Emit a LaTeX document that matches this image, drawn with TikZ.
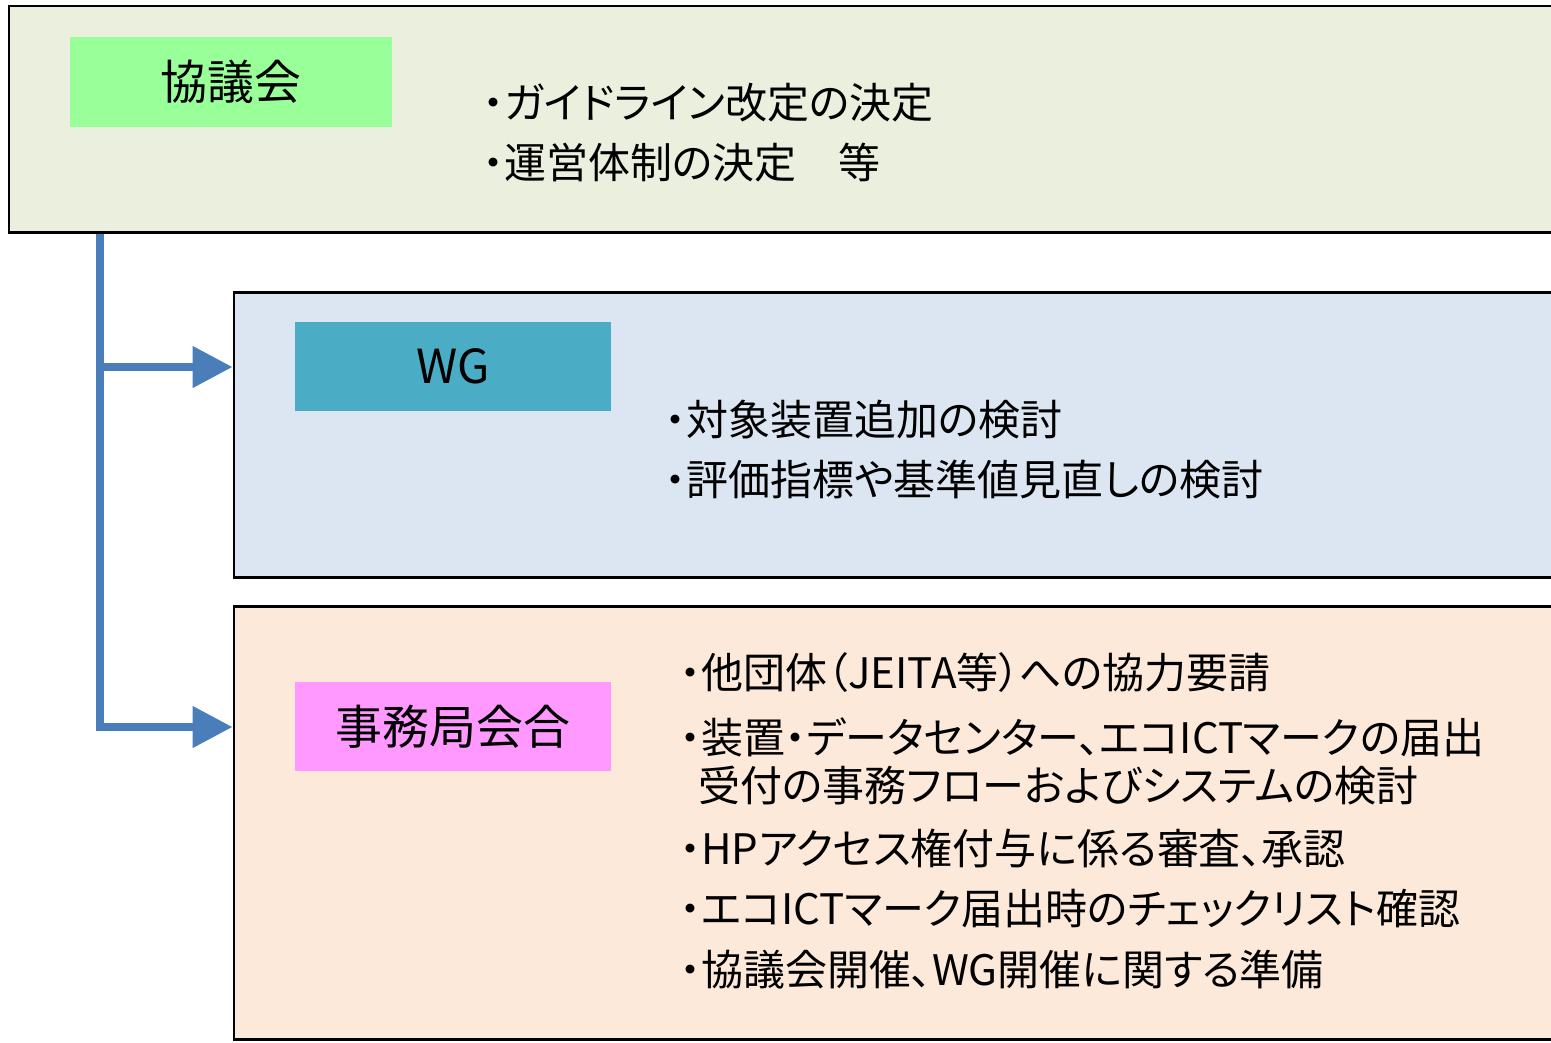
\documentclass[tikz,border=0pt]{standalone}
\usepackage{fontspec}
\newfontfamily\jp[RawFeature=+palt]{Noto Sans CJK JP}
\newfontfamily\jpfix{Noto Sans CJK JP}
\usetikzlibrary{arrows.meta,fit}
\definecolor{councilfill}{HTML}{EBF0DE}
\definecolor{councilgreen}{HTML}{99FF99}
\definecolor{wgfill}{HTML}{DCE6F2}
\definecolor{wgteal}{HTML}{4BACC6}
\definecolor{secfill}{HTML}{FDE9D9}
\definecolor{secpink}{HTML}{FF99FF}
\definecolor{linkblue}{HTML}{4A7EBB}
\tikzset{
  panel/.style={draw=black, line width=1.7pt, inner sep=0pt},
  tag/.style={inner sep=0pt},
  tagtext/.style={inner sep=0pt, font=\jpfix\fontsize{26.7}{32}\selectfont},
  item/.style={anchor=west, inner sep=0pt, font=\jp\fontsize{23.9}{28}\selectfont},
  link/.style={draw=linkblue, line width=4.5pt, -{Triangle[length=0.8cm,width=0.8cm]}}
}
\begin{document}
\begin{tikzpicture}[x=0.02cm,y=-0.02cm]
\useasboundingbox (0,0) rectangle (1551,1042);
\clip (0,0) rectangle (1551,1042);
% panels
\node[panel, fill=councilfill, fit={(9,6)(1600,232)}] (council) {};
\node[panel, fill=wgfill, fit={(234,292)(1600,577)}] (wgbox) {};
\node[panel, fill=secfill, fit={(234,606)(1600,1039)}] (secbox) {};
% labels
\node[tag, fill=councilgreen, fit={(70,37)(392,127)},
      label={[tagtext]center:協議会}] (councillabel) {};
\node[tag, fill=wgteal, fit={(295,322)(611,411)},
      label={[tagtext]center:WG}] (wglabel) {};
\node[tag, fill=secpink, fit={(295,682)(611,771)},
      label={[tagtext]center:事務局会合}] (seclabel) {};
% connectors
\coordinate (split) at (100,367);
\coordinate (corner) at (100,727);
\draw[link] (council.south -| corner) -- (corner) -- (secbox.west |- corner);
\draw[link] (split) -- (wgbox.west |- split);
% council items
\node[item] (c1) at (483,103) {・ガイドライン改定の決定};
\node[item] (c2) at (483,163) {・運営体制の決定　等};
% WG items
\node[item] (w1) at (665,420) {・対象装置追加の検討};
\node[item] (w2) at (665,480) {・評価指標や基準値見直しの検討};
% secretariat items
\node[item] (s1) at (680,673) {・他団体（JEITA等）への協力要請};
\node[item] (s2) at (680,737) {・装置・データセンター、エコICTマークの届出};
\node[item] (s2b) at (698,786) {受付の事務フローおよびシステムの検討};
\node[item] (s3) at (680,848) {・HPアクセス権付与に係る審査、承認};
\node[item] (s4) at (680,909) {・エコICTマーク届出時のチェックリスト確認};
\node[item] (s5) at (680,970) {・協議会開催、WG開催に関する準備};
\end{tikzpicture}
\end{document}
